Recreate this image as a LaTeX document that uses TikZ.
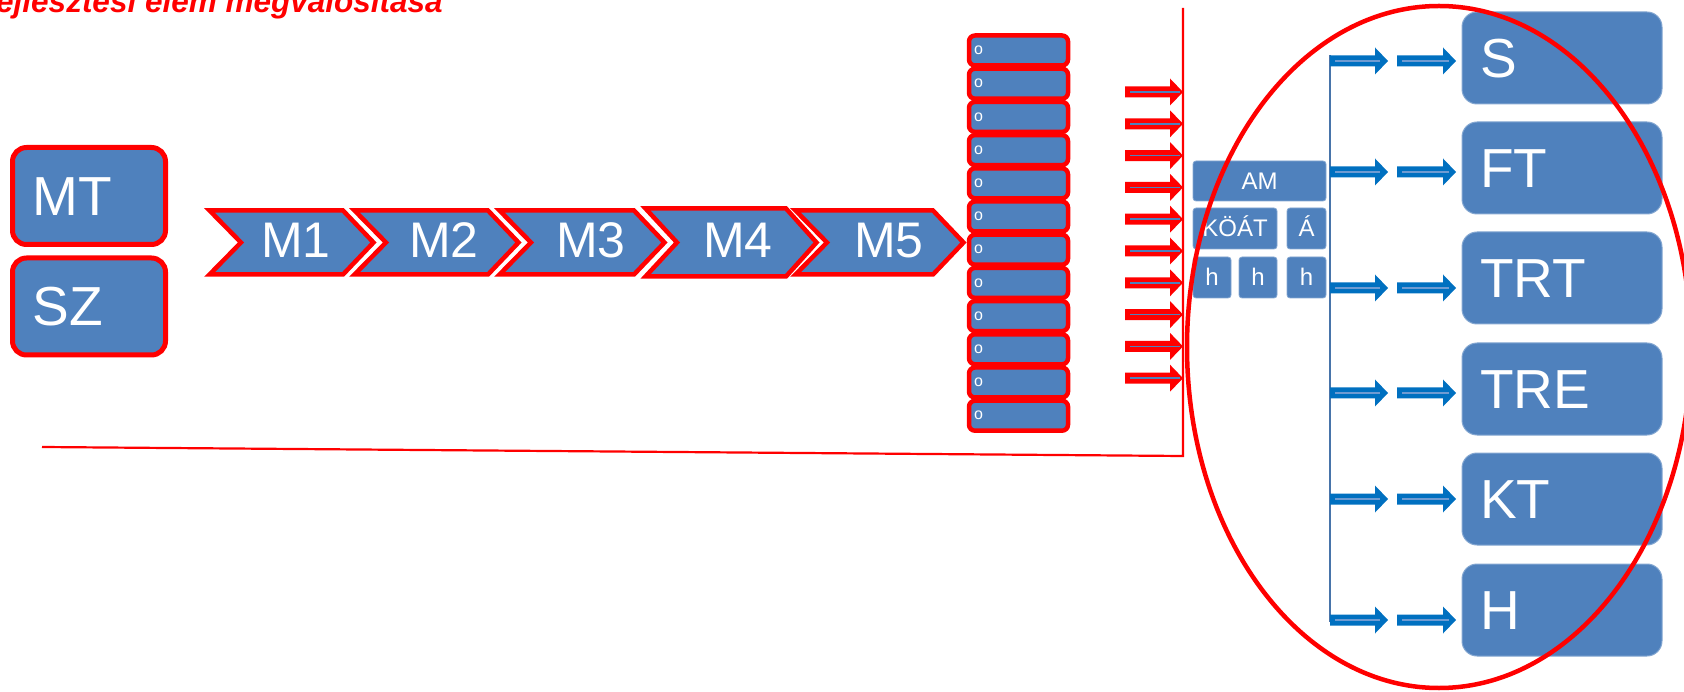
\documentclass[tikz,border=0pt]{standalone}
\usepackage{fontspec}
\setmainfont{Liberation Sans}
\definecolor{bfill}{RGB}{79,129,189}
\definecolor{barrow}{RGB}{0,112,192}
\definecolor{bline}{RGB}{110,155,210}
\definecolor{rred}{RGB}{255,0,0}
\newcommand\blkarrow[4]{%
  \fill[#1] (#2,#4-5.5) -- (#3-13,#4-5.5) -- (#3-13,#4-13.5) -- (#3,#4) -- (#3-13,#4+13.5) -- (#3-13,#4+5.5) -- (#2,#4+5.5) -- cycle;}
\tikzset{
  redbox/.style={draw=rred, line width=5pt, fill=bfill, rounded corners=14pt, text=white,
    font=\fontsize{55}{60}\selectfont, minimum height=97pt, text width=113pt, inner xsep=20pt,
    inner ysep=0pt, align=left, text height=39pt, text depth=0pt},
  obox/.style={draw=rred, line width=4.5pt, fill=bfill, rounded corners=6pt, text=white,
    font=\fontsize{16}{18}\selectfont, minimum height=30pt, text width=89pt, inner xsep=5pt,
    inner ysep=0pt, align=left, text height=8.3pt, text depth=0pt},
  chev/.style={draw=rred, line width=4.5pt, fill=bfill, line join=miter},
  chevtext/.style={text=white, font=\fontsize{50}{60}\selectfont, inner sep=0pt},
  smallbox/.style={fill=bfill, draw=bfill!70!white, line width=0.8pt, rounded corners=3pt,
    text=white, inner sep=0pt, font=\fontsize{24}{26}\selectfont, text height=17pt, text depth=0pt},
  bigbox/.style={fill=bfill, draw=bfill!70!white, line width=1pt, rounded corners=15pt,
    text=white, font=\fontsize{55}{60}\selectfont, minimum height=92pt, text width=164pt,
    inner xsep=18pt, inner ysep=0pt, align=left, text height=39.4pt, text depth=0pt},
  redline/.style={draw=rred, line width=2.2pt},
}
\begin{document}
\begin{tikzpicture}[x=1pt,y=-1pt]
\useasboundingbox (0,0) rectangle (1684,692);
% title (cut at top)
\node[anchor=base west, inner sep=0pt, text=rred, font=\fontsize{31.5}{34}\selectfont\bfseries\itshape] (title) at (-4,13) {ejlesztési elem megvalósítása};
% red frame lines
\coordinate (vt) at (1183,8);
\coordinate (vb) at (1183,456);
\coordinate (ls) at (42,447);
\draw[redline] (vt) -- (vb) -- (ls);
% MT / SZ
\node[redbox] (mt) at (89,196) {MT};
\node[redbox] (sz) at (89,306.5) {SZ};
% chevrons
\foreach \n/\a/\b/\t/\u/\c in {1/207/377/208/277/296, 2/352/522/208/277/444, 3/497/668/208/277/591, 4/643/820/206/279/738, 5/793/967/208/277/889}{
  \draw[chev] (\a+2.5,\t+2.5) -- (\b-34,\t+2.5) -- (\b-3.5,{(\t+\u)/2}) -- (\b-34,\u-2.5) -- (\a+2.5,\u-2.5) -- (\a+34,{(\t+\u)/2}) -- cycle;
  \node[chevtext] (m\n) at (\c,{(\t+\u)/2-2}) {M\n};
}
% o column
\foreach \i in {0,...,11}{
  \node[obox] (o\i) at (1018.5,{50.5+33.2*\i}) {o};
}
% red arrows
\foreach \i in {0,...,9}{
  \pgfmathsetmacro\yy{92+31.8*\i}
  \blkarrow{rred}{1125}{1183}{\yy}
  \draw[bfill, line width=1.6pt] (1130,\yy) -- (1180,\yy);
}
% AM block
\node[smallbox, minimum width=133pt, minimum height=40pt] (am) at (1259.5,181) {AM};
\node[smallbox, minimum width=84pt, minimum height=41pt] (koat) at (1235,228.5) {KÖÁT};
\node[smallbox, minimum width=39pt, minimum height=41pt] (aa) at (1306.5,228.5) {Á};
\node[smallbox, minimum width=38pt, minimum height=41pt] (h1) at (1212,277.5) {h};
\node[smallbox, minimum width=38pt, minimum height=41pt] (h2) at (1258,277.5) {h};
\node[smallbox, minimum width=39pt, minimum height=41pt] (h3) at (1306.5,277.5) {h};
% blue vertical line
\coordinate (bt) at (1330,55);
\coordinate (bb) at (1330,622);
\draw[bfill!90!black, line width=2pt] (bt) -- (bb);
% right boxes
\foreach \nm/\tx/\tp in {s/S/12, ft/FT/122, trt/TRT/232, tre/TRE/343, kt/KT/453, hh/H/564}{
  \node[bigbox, minimum width=200pt] (\nm) at (1562,\tp+46) {\tx};
}
% blue arrows
\foreach \yy in {61,172,288,393,499,620}{
  \blkarrow{barrow}{1330}{1388}{\yy}
  \draw[bline, line width=1.2pt] (1335,\yy) -- (1380,\yy);
  \blkarrow{barrow}{1397}{1456}{\yy}
  \draw[bline, line width=1.2pt] (1402,\yy) -- (1449,\yy);
}
% big red ellipse
\draw[rred, line width=4.5pt] (1439,347) ellipse [x radius=252pt, y radius=341pt];
\end{tikzpicture}
\end{document}
